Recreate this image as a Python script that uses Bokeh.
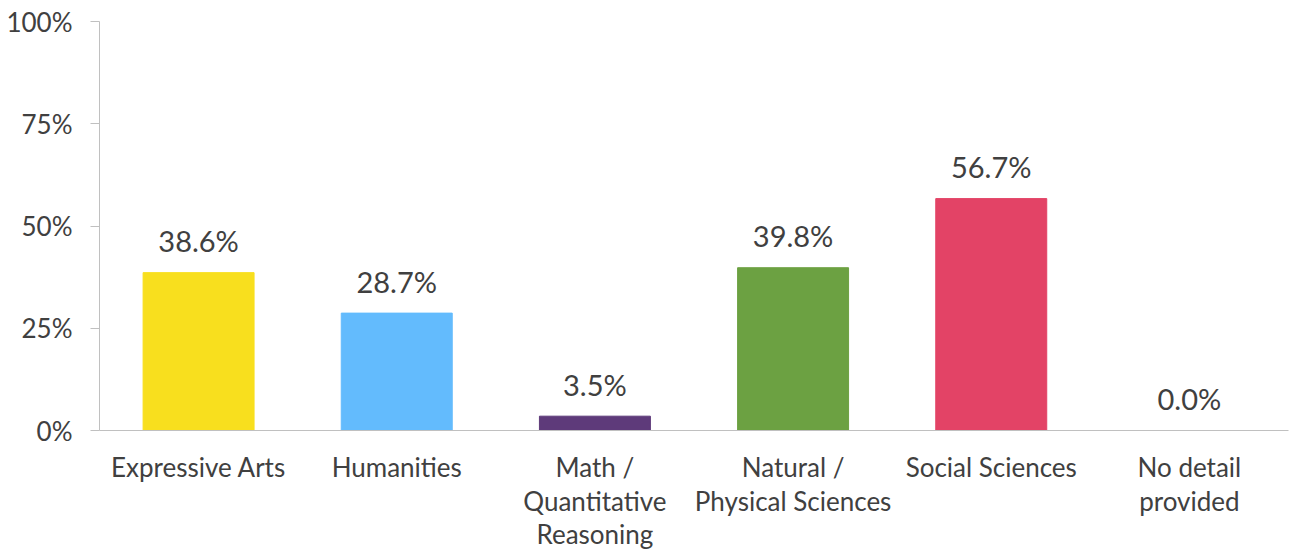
from bokeh.plotting import figure
from bokeh.models import ColumnDataSource, FactorRange, Range1d, FixedTicker, CategoricalAxis
from bokeh.core.properties import value
from bokeh.embed import file_html
from bokeh.resources import INLINE

categories = ["Expressive Arts", "Humanities", "Math / Quantitative Reasoning",
              "Natural / Physical Sciences", "Social Sciences", "No detail provided"]
tick_labels = ["Expressive Arts", "Humanities", "Math /\nQuantitative\nReasoning",
               "Natural /\nPhysical Sciences", "Social Sciences", "No detail\nprovided"]
values = [38.6, 28.7, 3.5, 39.8, 56.7, 0.0]
colors = ["#F8DF1E", "#63BBFD", "#5E3A7A", "#6CA142", "#E34366", "#A5A5A5"]
y_ticks = [0, 25, 50, 75, 100]

FONT = "Lato"
TXT = "#404040"

src = ColumnDataSource(dict(
    cat=categories, val=values, color=colors,
    label=[f"{v:.1f}%" for v in values],
))

p = figure(x_range=FactorRange(*categories), y_range=Range1d(0, 100),
           width=1290, height=552, output_backend="svg", toolbar_location=None,
           x_axis_location=None,
           min_border_left=99, min_border_right=2, min_border_top=21, min_border_bottom=110)

p.vbar(x="cat", top="val", width=0.56, color="color", source=src)
p.text(x="cat", y="val", text="label", source=src, text_align="center",
       text_baseline="alphabetic", y_offset=-32, text_font=value(FONT),
       text_font_size="29px", text_color=TXT)

p.outline_line_color = None
p.xgrid.grid_line_color = None
p.ygrid.grid_line_color = None

p.yaxis.ticker = FixedTicker(ticks=y_ticks)
p.yaxis.major_label_overrides = {t: f"{t}%" for t in y_ticks}
p.yaxis.major_tick_in = 0
p.yaxis.major_tick_out = 9
p.yaxis.minor_tick_line_color = None
p.yaxis.axis_line_color = "#C0C0C0"
p.yaxis.major_tick_line_color = "#C0C0C0"
p.yaxis.major_label_text_font = FONT
p.yaxis.major_label_text_font_size = "26px"
p.yaxis.major_label_text_color = TXT
p.yaxis.major_label_standoff = 18

# category labels split into lines; each line is drawn by its own stacked axis
# whose factor range has the same layout as the main one
lines = [t.split("\n") for t in tick_labels]
n_lines = max(len(l) for l in lines)
standoffs = [20, -1, -2]

for k in range(n_lines):
    factors = [(l[k] if k < len(l) else " " * (i + 1)) for i, l in enumerate(lines)]
    name = f"line{k}"
    p.extra_x_ranges[name] = FactorRange(*factors)
    ax = CategoricalAxis(x_range_name=name)
    ax.axis_line_color = "#C0C0C0" if k == 0 else None
    ax.major_tick_line_color = None
    ax.minor_tick_line_color = None
    ax.major_tick_in = 0
    ax.major_tick_out = 0
    ax.major_label_standoff = standoffs[k]
    ax.major_label_text_font = FONT
    ax.major_label_text_font_size = "26px"
    ax.major_label_text_color = TXT
    p.add_layout(ax, "below")

open("out.html", "w").write(file_html(p, INLINE))
